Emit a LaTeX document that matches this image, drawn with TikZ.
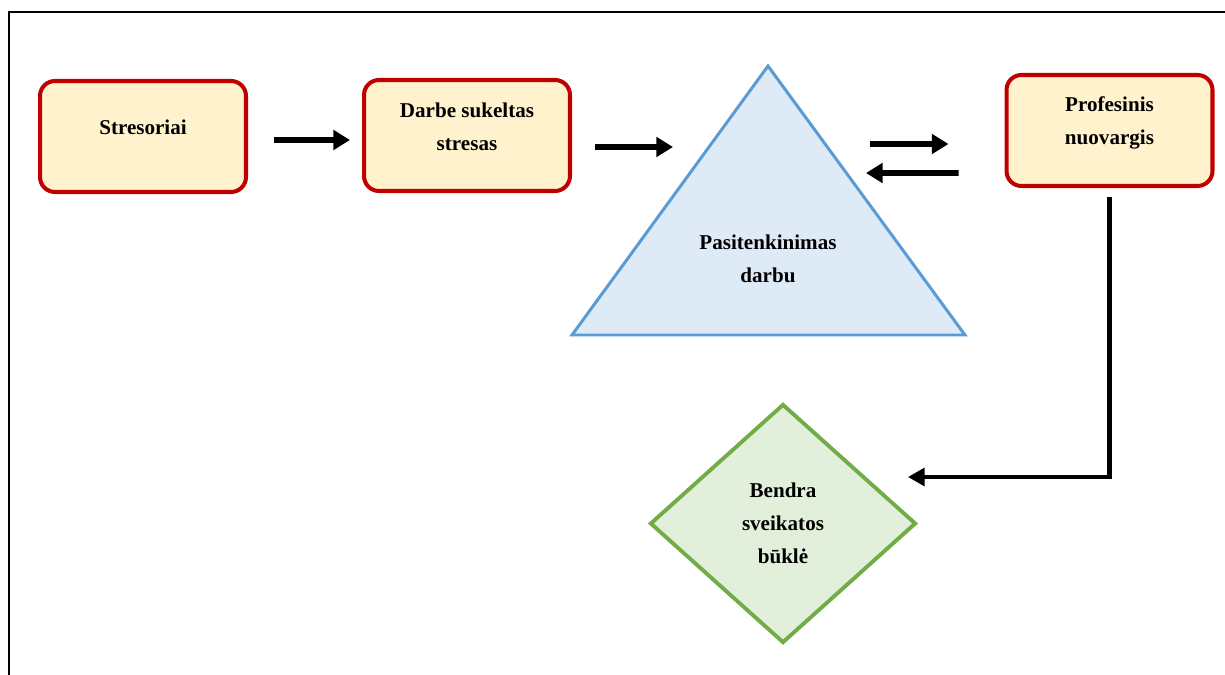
\documentclass[tikz,border=0pt]{standalone}
\usepackage{fontspec}
\setmainfont{Liberation Serif}
\usepackage{xcolor}
\usepackage{tikz}
\usetikzlibrary{shapes, shapes.geometric, arrows.meta, positioning, calc}
\definecolor{boxred}{HTML}{C00000}
\definecolor{boxfill}{HTML}{FFF2CC}
\definecolor{triblue}{HTML}{5B9BD5}
\definecolor{trifill}{HTML}{DEEBF7}
\definecolor{diagreen}{HTML}{70AD47}
\definecolor{diafill}{HTML}{E2EFDA}
\begin{document}
\begin{tikzpicture}[x=0.02cm,y=-0.02cm,
    box/.style={draw=boxred,fill=boxfill,line width=2.3pt,rounded corners=8.5pt,minimum width=4.12cm,minimum height=2.22cm},
    lbl/.style={font=\fontsize{12}{18.7}\selectfont\bfseries,align=center},
    arr/.style={line width=3.3pt,-{Triangle[length=9.5pt,width=11pt]}}]
    \useasboundingbox (0,0) rectangle (1225,675);
    \draw[line width=1.1pt] (9,676) -- (9,12) -- (1226,12);
    \node[box] (str) at (143,136.5) {};
    \node[lbl] at (143,127) {Stresoriai};
    \node[box] (dss) at (467,135.5) {};
    \node[lbl] at (467,126.5) {Darbe sukeltas\\stresas};
    \node[box] (prof) at (1109.5,130.5) {};
    \node[lbl] at (1109.5,122.5) {Profesinis\\nuovargis};
    \coordinate (satTop) at (768,66);
    \draw[draw=triblue,fill=trifill,line width=1.7pt] (satTop) -- (572,335) -- (965,335) -- cycle;
    \node[lbl] (sat) at (768,258.5) {Pasitenkinimas\\darbu};
    \node[diamond,draw=diagreen,fill=diafill,line width=2.2pt,inner sep=0pt,minimum width=5.32cm,minimum height=4.78cm,lbl] (bkl) at (783,523.5) {Bendra\\sveikatos\\būklė};
    \draw[arr] ($(str.east)+(26,3.5)$) -- ($(dss.west)+(-12,4.5)$);
    \draw[arr] ($(dss.east)+(23,11.5)$) -- ($(satTop)+(-95,81)$);
    \draw[arr] ($(satTop)+(102,78)$) -- ($(prof.west)+(-56,13.5)$);
    \draw[arr] ($(prof.west)+(-46,42.5)$) -- ($(satTop)+(98,107)$);
    \draw[arr,line width=2.8pt,-{Triangle[length=9.5pt,width=10pt]}] ($(prof.south)+(0,9)$) |- ($(bkl.east)+(-10,-46.5)$);
\end{tikzpicture}
\end{document}
